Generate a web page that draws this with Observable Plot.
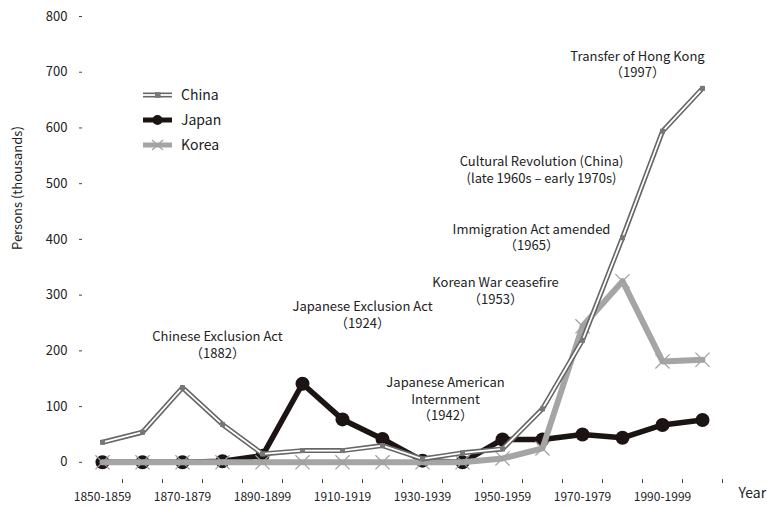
<!DOCTYPE html>
<html>
<head>
<meta charset="utf-8">
<script src="https://cdn.jsdelivr.net/npm/d3@7"></script>
<script src="https://cdn.jsdelivr.net/npm/@observablehq/plot@0.6"></script>
<style>
  html, body { margin: 0; padding: 0; background: #fff; }
  #wrap { position: relative; width: 767px; height: 507px; }
  #legend { position: absolute; left: 0; top: 0; pointer-events: none; }
</style>
</head>
<body>
<div id="wrap"></div>
<script>
// ---- data ----
const categories = ["1850-1859","1860-1869","1870-1879","1880-1889","1890-1899","1900-1909","1910-1919","1920-1929",
                    "1930-1939","1940-1949","1950-1959","1960-1969","1970-1979","1980-1989","1990-1999","2000-2009"];
const labeledCategories = ["1850-1859","1870-1879","1890-1899","1910-1919","1930-1939","1950-1959","1970-1979","1990-1999"];
const seriesNames = ["China","Japan","Korea"];
const chinaValues = [36, 54, 134, 68, 15, 21, 21, 30, 6, 17, 24, 96, 219, 403, 594, 671];
const japanValues = [0, 0, 0, 2, 12, 141, 77, 42, 3, 0, 41, 41, 50, 44, 67, 76];
const koreaValues = [0, 0, 0, 0, 0, 0, 0, 0, 0, 0, 7, 25, 244, 325, 181, 184];
const yTicks = [0, 100, 200, 300, 400, 500, 600, 700, 800];
const noteTexts = [
  "Chinese Exclusion Act\n（1882）",
  "Japanese Exclusion Act\n（1924）",
  "Japanese American\nInternment\n（1942）",
  "Korean War ceasefire\n（1953）",
  "Immigration Act amended\n（1965）",
  "Cultural Revolution (China)\n(late 1960s – early 1970s)",
  "Transfer of Hong Kong\n（1997）"
];
const noteCategories = ["1880-1889","1910-1919","1930-1939","1950-1959","1960-1969","1960-1969","1990-1999"];
const noteValues = [212, 266, 115, 309, 405, 526, 715];

// ---- build ----
const rows = [];
[chinaValues, japanValues, koreaValues].forEach((vals, s) =>
  vals.forEach((v, i) => rows.push({cat: categories[i], series: seriesNames[s], value: v})));
const china = rows.filter(d => d.series === "China");
const japan = rows.filter(d => d.series === "Japan");
const korea = rows.filter(d => d.series === "Korea");
const notes = noteTexts.map((t, i) => ({text: t, cat: noteCategories[i], value: noteValues[i]}));
const noteDx = [-5, 20, 23, -7, -11, -1, -25];

const font = "'Noto Sans CJK JP', 'Noto Sans', sans-serif";
const dark = "#1c1412";

const chart = Plot.plot({
  width: 767,
  height: 507,
  marginLeft: 82,
  marginRight: 45,
  marginTop: 16,
  marginBottom: 24,
  style: {fontFamily: font, fontSize: "13px", color: "#222", background: "#fff"},
  x: {type: "point", domain: categories, padding: 0.5},
  y: {domain: [-38, 800]},
  marks: [
    Plot.axisY({ticks: yTicks, tickSize: 3, tickPadding: 12, label: null, line: true, fontSize: 13, stroke: "#444"}),
    Plot.axisX({ticks: labeledCategories, tickSize: 0, tickPadding: 9, label: null, line: true, fontSize: 12, stroke: "#444"}),
    Plot.ruleX(categories, {x: d => d, y1: -38, y2: -31, dx: 20, stroke: "#444"}),
    Plot.text(["Persons (thousands)"], {frameAnchor: "left", dx: -65, rotate: -90, fontSize: 13, fill: "#222"}),
    Plot.text(["Year"], {frameAnchor: "bottom-right", dx: 16, dy: 14, textAnchor: "start", fontSize: 14, fill: "#222"}),
    // Japan
    Plot.line(japan, {x: "cat", y: "value", stroke: dark, strokeWidth: 5.5, strokeLinejoin: "round"}),
    Plot.dot(japan, {x: "cat", y: "value", r: 7, fill: dark}),
    // Korea
    Plot.line(korea, {x: "cat", y: "value", stroke: "#a5a5a5", strokeWidth: 6, strokeLinejoin: "round"}),
    Plot.dot(korea, {x: "cat", y: "value", symbol: "times", r: 6.5, stroke: "#a0a0a0", strokeWidth: 1.2}),
    // China
    Plot.line(china, {x: "cat", y: "value", stroke: "#666", strokeWidth: 5, strokeLinejoin: "round"}),
    Plot.line(china, {x: "cat", y: "value", stroke: "#fff", strokeWidth: 1.8, strokeLinejoin: "round"}),
    Plot.dot(china, {x: "cat", y: "value", symbol: "square", r: 2.8, fill: "#777"}),
    // annotations (one mark per note so each gets its own horizontal offset)
    ...notes.map((n, i) => Plot.text([n], {x: "cat", y: "value", text: "text", dx: noteDx[i],
      fontSize: 13, fill: "#222", lineHeight: 1.27, lineAnchor: "middle"}))
  ]
});
document.getElementById("wrap").appendChild(chart);

// ---- legend overlay ----
const legend = d3.select("#wrap").append("svg")
  .attr("id", "legend").attr("width", 767).attr("height", 507);
const legendY = [95, 120, 145];
seriesNames.forEach((name, i) => {
  const g = legend.append("g").attr("transform", `translate(0,${legendY[i]})`);
  if (name === "China") {
    g.append("line").attr("x1", 143).attr("x2", 172).attr("stroke", "#666").attr("stroke-width", 5);
    g.append("line").attr("x1", 143).attr("x2", 172).attr("stroke", "#fff").attr("stroke-width", 1.8);
    g.append("rect").attr("x", 155).attr("y", -2.8).attr("width", 5.6).attr("height", 5.6).attr("fill", "#777");
  } else if (name === "Japan") {
    g.append("line").attr("x1", 143).attr("x2", 172).attr("stroke", dark).attr("stroke-width", 5);
    g.append("circle").attr("cx", 157.5).attr("cy", 0).attr("r", 5).attr("fill", dark);
  } else {
    g.append("line").attr("x1", 143).attr("x2", 172).attr("stroke", "#a5a5a5").attr("stroke-width", 5);
    g.append("path").attr("d", "M152,-5L163,5M152,5L163,-5").attr("stroke", "#a0a0a0").attr("stroke-width", 1.2);
  }
  g.append("text").attr("x", 181).attr("y", 0).attr("dy", "0.35em")
    .attr("font-family", font).attr("font-size", 14).attr("fill", "#222").text(name);
});
</script>
</body>
</html>
